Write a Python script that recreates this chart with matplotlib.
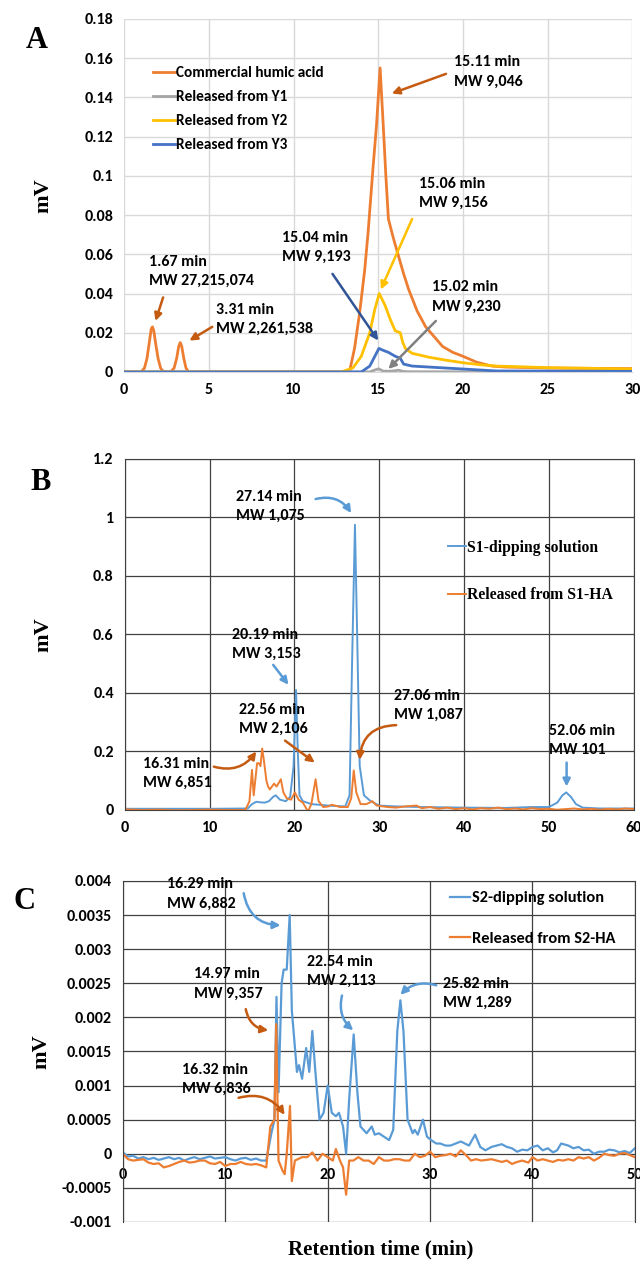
import matplotlib
matplotlib.use("Agg")
import matplotlib.pyplot as plt

SANS = ['Carlito', 'Lato', 'Open Sans', 'DejaVu Sans']
SERIF = ['Liberation Serif', 'DejaVu Serif']

# ---------------- Panel A data ----------------
a_ha_x = [0, 1.0, 1.2, 1.35, 1.5, 1.6, 1.67, 1.75, 1.85, 2.0, 2.15, 2.3, 2.6, 2.75, 2.95, 3.1,
          3.22, 3.31, 3.4, 3.52, 3.65, 3.8,
          13.3, 13.6, 13.9, 14.2, 14.4, 14.7, 14.9, 15.11, 15.3, 15.45, 15.6, 15.9, 16.2,
          16.5, 16.8, 17.3, 17.8, 18.3, 18.8, 19.4, 20.0, 20.8, 21.7, 22.5, 25.0, 30.0]
a_ha_y = [0, 0, 0.002, 0.007, 0.016, 0.022, 0.023, 0.021, 0.015, 0.007, 0.002, 0.0003, 0, 0, 0.002,
          0.007, 0.013, 0.015, 0.013, 0.007, 0.002, 0,
          0, 0.012, 0.030, 0.052, 0.071, 0.105, 0.126, 0.155, 0.125, 0.100, 0.078, 0.068, 0.059,
          0.050, 0.042, 0.031, 0.023, 0.018, 0.013, 0.010, 0.008, 0.005, 0.003, 0.0025, 0.002, 0.0017]
a_y1_x = [0, 14.5, 14.8, 15.02, 15.3, 15.8, 16.2, 16.5, 17.0, 30.0]
a_y1_y = [0, 0, 0.0010, 0.0016, 0.0004, 0.0004, 0.0009, 0.0002, 0.0001, 0]
a_y2_x = [0, 12.8, 13.5, 14.0, 14.5, 14.8, 15.06, 15.4, 15.7, 16.0, 16.3, 16.45, 16.6, 17.0,
          18.0, 19.0, 20.0, 21.0, 22.0, 25.0, 30.0]
a_y2_y = [0, 0, 0.002, 0.008, 0.020, 0.032, 0.040, 0.034, 0.027, 0.021, 0.020, 0.015, 0.012, 0.0095,
          0.0075, 0.006, 0.0047, 0.0037, 0.003, 0.0022, 0.0015]
a_y3_x = [0, 14.0, 14.5, 14.8, 15.04, 15.3, 15.6, 16.0, 16.3, 16.5, 17.0, 18.0, 20.0, 22.0, 30.0]
a_y3_y = [0, 0, 0.003, 0.008, 0.012, 0.011, 0.010, 0.008, 0.007, 0.004, 0.003, 0.0025, 0.0015, 0.0005, 0.0003]

# ---------------- Panel B data ----------------
b_s1_x = [0, 5, 10, 14.5, 15.0, 15.5, 16.0, 16.5, 17.0, 17.5, 17.8, 18.3, 19.0, 19.5, 19.9, 20.19,
          20.4, 20.6, 21.0, 22.0, 24.0, 26.0, 26.5, 26.8, 27.14, 27.4, 27.7, 28.2, 29.0, 30.0, 32.0,
          35.0, 40.0, 45.0, 48.0, 50.0, 51.0, 51.6, 52.06, 52.6, 53.2, 54.0, 56.0, 60.0]
b_s1_y = [0.004, 0.004, 0.004, 0.005, 0.02, 0.028, 0.026, 0.025, 0.03, 0.045, 0.05, 0.035, 0.03, 0.045,
          0.15, 0.41, 0.2, 0.05, 0.03, 0.02, 0.015, 0.012, 0.05, 0.5, 0.975, 0.6, 0.15, 0.05, 0.03, 0.015,
          0.012, 0.01, 0.008, 0.007, 0.01, 0.01, 0.025, 0.05, 0.06, 0.045, 0.02, 0.008, 0.005, 0.005]
b_ha_x = [0, 2, 4, 6, 8, 10, 12, 14.0, 14.25, 14.7, 15.0, 15.2, 15.6, 15.8, 16.0, 16.2, 16.4, 16.7,
          16.9, 17.1, 17.6, 17.9, 18.4, 18.7, 19.1, 19.6, 20.05, 20.5, 21.0, 21.6, 22.0, 22.5, 22.85,
          23.4, 24.0, 24.4, 25.4, 26.3, 26.7, 27.0, 27.3, 27.8, 28.5, 29.2, 29.7, 31.0, 32.0, 33.0,
          34.4, 35.0, 36.0, 37.0, 38.0, 39.0, 40.0, 41.0, 42.0, 43.0, 44.0, 45.0, 46.0, 47.0, 48.0,
          49.0, 50.0, 51.0, 52.0, 53.0, 54.0, 55.0, 56.0, 57.0, 58.0, 59.0, 60.0]
b_ha_y = [0.002, 0.0, 0.001, -0.001, 0.0, 0.001, 0.0, 0.0, 0.002, 0.03, 0.137, 0.05, 0.16, 0.16, 0.15,
          0.21, 0.17, 0.10, 0.08, 0.07, 0.09, 0.08, 0.105, 0.06, 0.04, 0.035, 0.06, 0.035, 0.025,
          -0.005, 0.02, 0.105, 0.03, 0.01, 0.012, 0.018, 0.01, 0.01, 0.04, 0.135, 0.06, 0.02, 0.02,
          0.03, 0.015, 0.01, 0.008, 0.012, 0.015, 0.006, 0.01, 0.004, 0.008, 0.003, 0.006, 0.002,
          0.006, 0.004, 0.008, 0.003, 0.005, 0.002, 0.006, 0.003, 0.004, 0.001, 0.003, 0.005, 0.002,
          0.004, 0.001, 0.004, 0.002, 0.005, 0.003]

# ---------------- Panel C data ----------------
c_s2_x = [0, 0.5, 1, 1.5, 2, 2.5, 3, 3.5, 4, 4.5, 5, 5.5, 6, 6.5, 7, 7.5, 8, 8.5, 9, 9.5, 10, 10.5,
          11, 11.5, 12, 12.5, 13, 13.5, 14.0, 14.5, 14.8, 15.0, 15.2, 15.5, 15.7, 16.0, 16.29, 16.5,
          17.0, 17.2, 17.5, 17.9, 18.2, 18.5, 18.8, 19.2, 19.6, 20.0, 20.4, 20.8, 21.1, 21.5, 21.8,
          22.1, 22.54, 22.9, 23.2, 23.8, 24.3, 24.6, 25.0, 25.5, 26.0, 26.4, 26.8, 27.1, 27.4, 27.8,
          28.3, 28.5, 28.8, 29.3, 29.7, 30.1, 30.6, 31.0, 31.5, 32.0, 32.5, 33.0, 33.4, 33.8, 34.4,
          34.9, 35.4, 36.0, 36.5, 37.0, 37.5, 38.0, 38.5, 39.0, 39.5, 40.0, 40.5, 41.0, 41.5, 42.0,
          42.4, 42.8, 43.5, 44.0, 44.5, 45.0, 45.5, 46.0, 46.5, 47.0, 47.5, 48.0, 48.5, 49.0, 49.5, 50.0]
c_s2_y = [0.00002, -0.00004, -0.00003, -0.00007, -0.00005, -0.00008, -0.00006, -0.00009, -0.00007,
          -0.00005, -0.00008, -0.00006, -0.0001, -0.00007, -0.00005, -0.00008, -0.00006, -0.00004,
          -0.00007, -0.00006, -0.00005, -0.00008, -0.0001, -0.00007, -0.00006, -0.00009, -0.00007,
          -0.0001, -0.0001, 0.0003, 0.0005, 0.0023, 0.0009, 0.0025, 0.0027, 0.0027, 0.0035, 0.0021,
          0.0012, 0.0013, 0.0011, 0.00155, 0.0012, 0.0018, 0.0012, 0.0005, 0.0006, 0.001, 0.0006,
          0.00055, 0.0006, 0.0004, 0.0, 0.0008, 0.00175, 0.0009, 0.0004, 0.0003, 0.0004, 0.00028,
          0.0003, 0.00025, 0.0002, 0.00035, 0.0018, 0.00225, 0.0018, 0.0005, 0.0003, 0.00035,
          0.00028, 0.0005, 0.00025, 0.0002, 0.00015, 0.00015, 0.00012, 0.00012, 0.00015, 0.00018,
          0.00015, 0.00012, 0.00028, 0.0001, 0.00005, 0.0001, 0.00012, 0.00014, 0.0001, 0.00008,
          0.00003, 0.00006, 0.00005, 0.0001, 0.00012, 0.00005, 0.00008, 0.00002, 0.00005, 0.00015,
          0.00012, 0.00008, 0.0001, 0.00005, 0.00006, 0.0, 0.00003, 0.00003, 0.00006, 0.00005,
          0.00002, 0.00004, 0.00001, 0.00008]
c_ha_x = [0, 0.5, 1, 1.5, 2, 2.5, 3, 3.5, 4, 4.5, 5, 5.5, 6, 6.5, 7, 7.5, 8, 8.5, 9, 9.5, 10, 10.5,
          11, 11.5, 12, 12.5, 13, 13.5, 14.0, 14.4, 14.8, 14.97, 15.2, 15.6, 15.8, 16.0, 16.32, 16.5,
          16.8, 17.5, 18.0, 18.5, 19.0, 19.5, 20.0, 20.5, 20.8, 21.2, 21.5, 21.8, 22.1, 22.5, 23.0,
          23.5, 24.0, 24.5, 25.0, 25.5, 26.0, 26.5, 27.0, 27.5, 28.0, 28.5, 29.0, 29.5, 30.0, 30.5,
          31.0, 31.5, 32.0, 32.5, 33.0, 33.5, 34.0, 34.5, 35.0, 35.5, 36.0, 36.5, 37.0, 37.5, 38.0,
          38.5, 39.0, 39.6, 40.0, 40.5, 41.0, 41.5, 42.0, 42.5, 43.0, 43.5, 44.0, 44.5, 45.0, 45.5,
          46.0, 46.5, 47.0, 47.5, 48.0, 48.5, 49.0, 49.5, 50.0]
c_ha_y = [0.0, -0.00008, -0.0001, -0.00009, -0.00008, -0.00013, -0.00015, -0.00014, -0.0002,
          -0.00018, -0.00015, -0.00012, -0.0001, -0.00013, -0.00012, -0.0001, -0.0001, -0.00014,
          -0.00015, -0.00012, -0.00018, -0.00015, -0.00015, -0.00012, -0.00015, -0.00016, -0.00015,
          -0.00017, -0.0002, 0.0004, 0.0005, 0.0019, -0.0001, -0.00025, -0.0003, 0.0, 0.0007,
          -0.0004, -0.0001, -0.00005, -0.00005, 0.00002, -0.0001, 0.0, -0.00005, -0.0001, 0.00007,
          -0.0001, -0.0002, -0.0006, -0.0001, -0.0001, -0.00005, -0.0001, -0.0001, -0.00015,
          -0.00005, -0.0001, -0.0001, -0.00008, -0.00008, -0.0001, -0.0001, 0.0, -0.00005, -0.00003,
          0.00003, -0.00005, -0.00003, -0.00002, 0.0, -0.00004, 0.00005, -0.00002, -0.0001, -0.00008,
          -0.0001, -0.00009, -0.00008, -0.0001, -0.00012, -0.0001, -0.00015, -0.00012, -0.0001,
          -0.00013, -0.00005, -0.0001, -0.00008, -0.0001, -0.00012, -0.00009, -0.0001, -0.00008,
          -0.0001, -0.00005, -0.00007, -0.00005, -0.0001, -0.00006, 0.0, -0.00002, -0.00003, 0.0,
          0.00001, -0.00002, -0.00005]

# ---------------- colours ----------------
ORANGE = '#ED7D31'
DKORANGE = '#C55A11'
GRAY = '#A5A5A5'
YELLOW = '#FFC000'
BLUE = '#4472C4'
DKBLUE = '#2F5597'
LBLUE = '#5B9BD5'

fig = plt.figure(figsize=(6.4, 12.63), dpi=100)


def style_ticks(ax):
    for lab in ax.get_xticklabels() + ax.get_yticklabels():
        lab.set_fontfamily(SANS)
        lab.set_fontweight('bold')
        lab.set_fontsize(11.5)
    ax.tick_params(length=0, pad=8)


def note(ax, text, tx, ty, ax_, ay_, sx, sy, color, rad=0.0, fs=11.5):
    ax.text(tx, ty, text, ha='left', va='center', fontsize=fs, fontweight='bold',
            family=SANS, linespacing=1.45, zorder=6)
    ax.annotate('', xy=(ax_, ay_), xytext=(sx, sy),
                arrowprops=dict(arrowstyle='-|>', color=color, lw=1.8, mutation_scale=11,
                                shrinkA=0, shrinkB=0,
                                connectionstyle=f'arc3,rad={rad}'), zorder=6)


# ================= Panel A =================
axA = fig.add_axes([0.194, 0.7055, 0.794, 0.2795])
axA.plot(a_ha_x, a_ha_y, color=ORANGE, lw=2.0, label='Commercial humic acid')
axA.plot(a_y1_x, a_y1_y, color=GRAY, lw=2.0, label='Released from Y1')
axA.plot(a_y2_x, a_y2_y, color=YELLOW, lw=2.0, label='Released from Y2')
axA.plot(a_y3_x, a_y3_y, color=BLUE, lw=2.0, label='Released from Y3')
axA.set_xlim(0, 30)
axA.set_ylim(0, 0.18)
axA.set_xticks([0, 5, 10, 15, 20, 25, 30])
axA.set_xticklabels(['0', '5', '10', '15', '20', '25', '30'])
axA.set_yticks([0, 0.02, 0.04, 0.06, 0.08, 0.1, 0.12, 0.14, 0.16, 0.18])
axA.set_yticklabels(['0', '0.02', '0.04', '0.06', '0.08', '0.1', '0.12', '0.14', '0.16', '0.18'])
axA.grid(True, color='#D9D9D9', lw=1.0)
axA.set_axisbelow(True)
for s in ['top', 'right', 'left']:
    axA.spines[s].set_visible(False)
axA.spines['bottom'].set_color('#D9D9D9')
style_ticks(axA)
axA.legend(loc='upper left', bbox_to_anchor=(0.03, 0.905), frameon=False,
           handlelength=1.4, handletextpad=0.1, labelspacing=0.65,
           prop=dict(family=SANS, weight='bold', size=11))
note(axA, '15.11 min\nMW 9,046', 19.5, 0.153, 15.8, 0.142, 19.0, 0.152, DKORANGE)
note(axA, '1.67 min\nMW 27,215,074', 1.45, 0.0513, 1.85, 0.026, 2.3, 0.038, DKORANGE)
note(axA, '3.31 min\nMW 2,261,538', 5.4, 0.027, 3.85, 0.016, 5.2, 0.023, DKORANGE)
note(axA, '15.04 min\nMW 9,193', 9.3, 0.0635, 15.0, 0.016, 12.3, 0.050, DKBLUE)
note(axA, '15.06 min\nMW 9,156', 17.4, 0.0912, 15.15, 0.042, 17.0, 0.078, YELLOW)
note(axA, '15.02 min\nMW 9,230', 18.2, 0.0383, 15.6, 0.0015, 18.4, 0.026, '#808080')
fig.text(0.058, 0.968, 'A', fontsize=22, fontweight='bold', family=SERIF, ha='center', va='center')
axA.set_ylabel('mV', fontsize=16, fontweight='bold', family=SERIF)
axA.yaxis.set_label_coords(-0.14, 0.5)

# ================= Panel B =================
axB = fig.add_axes([0.195, 0.3587, 0.795, 0.2779])
axB.plot(b_s1_x, b_s1_y, color=LBLUE, lw=1.4, label='S1-dipping solution')
axB.plot(b_ha_x, b_ha_y, color=ORANGE, lw=1.4, label='Released from S1-HA')
axB.set_xlim(0, 60)
axB.set_ylim(0, 1.2)
axB.set_xticks([0, 10, 20, 30, 40, 50, 60])
axB.set_xticklabels(['0', '10', '20', '30', '40', '50', '60'])
axB.set_yticks([0, 0.2, 0.4, 0.6, 0.8, 1.0, 1.2])
axB.set_yticklabels(['0', '0.2', '0.4', '0.6', '0.8', '1', '1.2'])
axB.grid(True, color='#404040', lw=0.9)
axB.set_axisbelow(True)
for s in axB.spines.values():
    s.set_color('#404040')
style_ticks(axB)
axB.legend(loc='upper left', bbox_to_anchor=(0.607, 0.81), frameon=False,
           handlelength=1.15, handletextpad=0.1, labelspacing=2.0,
           prop=dict(family=SERIF, weight='bold', size=11.3))
note(axB, '27.14 min\nMW 1,075', 13.1, 1.038, 26.7, 1.015, 22.5, 1.063, LBLUE, rad=-0.35)
note(axB, '20.19 min\nMW 3,153', 12.7, 0.566, 19.3, 0.428, 17.5, 0.496, LBLUE)
note(axB, '22.56 min\nMW 2,106', 13.5, 0.31, 22.4, 0.162, 18.9, 0.237, DKORANGE)
note(axB, '16.31 min\nMW 6,851', 2.1, 0.124, 15.5, 0.200, 10.5, 0.148, DKORANGE, rad=0.35)
note(axB, '27.06 min\nMW 1,087', 31.7, 0.358, 27.7, 0.171, 32.0, 0.290, DKORANGE, rad=0.45)
note(axB, '52.06 min\nMW 101', 50.0, 0.237, 52.1, 0.08, 52.1, 0.162, LBLUE)
fig.text(0.063, 0.618, 'B', fontsize=22, fontweight='bold', family=SERIF, ha='center', va='center')
axB.set_ylabel('mV', fontsize=16, fontweight='bold', family=SERIF)
axB.yaxis.set_label_coords(-0.14, 0.5)

# ================= Panel C =================
axC = fig.add_axes([0.192, 0.0325, 0.800, 0.270])
axC.plot(c_s2_x, c_s2_y, color=LBLUE, lw=1.6, label='S2-dipping solution')
axC.plot(c_ha_x, c_ha_y, color=ORANGE, lw=1.6, label='Released from S2-HA')
axC.set_xlim(0, 50)
axC.set_ylim(-0.001, 0.004)
axC.set_xticks([0, 10, 20, 30, 40, 50])
axC.set_xticklabels(['0', '10', '20', '30', '40', '50'])
axC.set_yticks([-0.001, -0.0005, 0, 0.0005, 0.001, 0.0015, 0.002, 0.0025, 0.003, 0.0035, 0.004])
axC.set_yticklabels(['-0.001', '-0.0005', '0', '0.0005', '0.001', '0.0015', '0.002', '0.0025',
                     '0.003', '0.0035', '0.004'])
axC.grid(True, color='#404040', lw=0.9)
axC.set_axisbelow(True)
for s in axC.spines.values():
    s.set_color('#404040')
axC.spines['bottom'].set_position(('data', 0))
axC.spines['bottom'].set_visible(False)
style_ticks(axC)
axC.tick_params(axis='x', pad=10)
axC.legend(loc='upper left', bbox_to_anchor=(0.611, 1.014), frameon=False,
           handlelength=1.2, handletextpad=0.1, labelspacing=1.6,
           prop=dict(family=SANS, weight='bold', size=11.8))
note(axC, '16.29 min\nMW 6,882', 4.3, 0.00381, 15.4, 0.00335, 11.8, 0.00382, LBLUE, rad=0.4)
note(axC, '14.97 min\nMW 9,357', 6.9, 0.00249, 14.2, 0.00181, 12.0, 0.00212, DKORANGE, rad=0.35)
note(axC, '16.32 min\nMW 6,836', 5.8, 0.00109, 15.8, 0.00057, 11.3, 0.00082, DKORANGE, rad=-0.35)
note(axC, '22.54 min\nMW 2,113', 18.0, 0.00267, 22.5, 0.00181, 21.4, 0.00232, LBLUE, rad=0.3)
note(axC, '25.82 min\nMW 1,289', 31.3, 0.00235, 27.1, 0.00233, 30.6, 0.00247, LBLUE, rad=0.3)
fig.text(0.039, 0.286, 'C', fontsize=22, fontweight='bold', family=SERIF, ha='center', va='center')
axC.set_ylabel('mV', fontsize=16, fontweight='bold', family=SERIF)
axC.yaxis.set_label_coords(-0.14, 0.5)
fig.text(0.595, 0.011, 'Retention time (min)', fontsize=15, fontweight='bold', family=SERIF,
         ha='center', va='center')

fig.savefig('out.png', dpi=100)
